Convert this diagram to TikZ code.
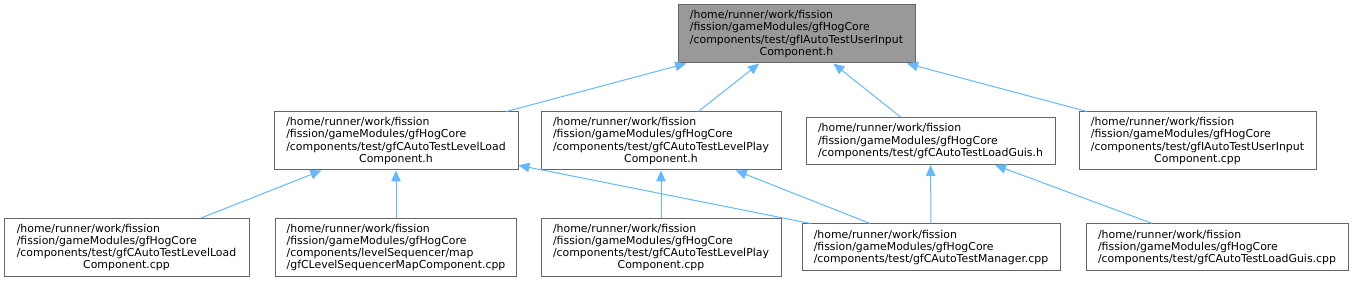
\documentclass[tikz,border=0pt]{standalone}
\usepackage{fontspec}
\setmainfont{DejaVu Sans}
\usepackage{xcolor}
\usepackage{tikz}
\usetikzlibrary{arrows.meta}

\definecolor{boxgray}{HTML}{666666}
\definecolor{topfill}{HTML}{999999}
\definecolor{edgeblue}{HTML}{63B8FF}
\newcommand{\ctrline}[1]{\null\hfill#1\hfill\null}

\begin{document}
\begin{tikzpicture}[x=1pt, y=-1pt,
    file/.style={draw=boxgray, line width=1pt, fill=white, align=left, inner sep=0pt,
        font=\fontsize{10.9}{12.2}\selectfont, minimum height=58pt},
    short/.style={minimum height=47pt},
    edge/.style={draw=edgeblue, line width=1pt, -{Triangle[length=11pt, width=9.5pt]}}]
    \useasboundingbox (0,0) rectangle (1353,283);

    % Header at the top
    \node[file, fill=topfill, minimum width=237pt] (top) at (796.5,34)
        {/home/runner/work/fission\\/fission/gameModules/gfHogCore\\/components/test/gfIAutoTestUserInput\\\ctrline{Component.h}};

    % Second row
    \node[file, minimum width=244pt] (llh) at (396,141)
        {/home/runner/work/fission\\/fission/gameModules/gfHogCore\\/components/test/gfCAutoTestLevelLoad\\\ctrline{Component.h}};
    \node[file, minimum width=240pt] (lph) at (661,141)
        {/home/runner/work/fission\\/fission/gameModules/gfHogCore\\/components/test/gfCAutoTestLevelPlay\\\ctrline{Component.h}};
    \node[file, short, minimum width=249pt] (lgh) at (930.5,141)
        {/home/runner/work/fission\\/fission/gameModules/gfHogCore\\/components/test/gfCAutoTestLoadGuis.h};
    \node[file, minimum width=237pt] (uic) at (1197.5,141)
        {/home/runner/work/fission\\/fission/gameModules/gfHogCore\\/components/test/gfIAutoTestUserInput\\\ctrline{Component.cpp}};

    % Third row
    \node[file, minimum width=245pt] (llc) at (126.5,247.5)
        {/home/runner/work/fission\\/fission/gameModules/gfHogCore\\/components/test/gfCAutoTestLevelLoad\\\ctrline{Component.cpp}};
    \node[file, minimum width=241pt] (lsm) at (396,247.5)
        {/home/runner/work/fission\\/fission/gameModules/gfHogCore\\/components/levelSequencer/map\\/gfCLevelSequencerMapComponent.cpp};
    \node[file, minimum width=240pt] (lpc) at (661,247.5)
        {/home/runner/work/fission\\/fission/gameModules/gfHogCore\\/components/test/gfCAutoTestLevelPlay\\\ctrline{Component.cpp}};
    \node[file, short, minimum width=258pt] (mgr) at (931,247.5)
        {/home/runner/work/fission\\/fission/gameModules/gfHogCore\\/components/test/gfCAutoTestManager.cpp};
    \node[file, short, minimum width=262pt] (lgc) at (1217,247.5)
        {/home/runner/work/fission\\/fission/gameModules/gfHogCore\\/components/test/gfCAutoTestLoadGuis.cpp};

    % Include edges
    \draw[edge] (llh) -- (top);
    \draw[edge] (lph) -- (top);
    \draw[edge] (lgh) -- (top);
    \draw[edge] (uic) -- (top);
    \draw[edge] (llc) -- (llh);
    \draw[edge] (lsm) -- (llh);
    \draw[edge] (mgr) -- (llh);
    \draw[edge] (lpc) -- (lph);
    \draw[edge] (mgr) -- (lph);
    \draw[edge] (mgr) -- (lgh);
    \draw[edge] (lgc) -- (lgh);
\end{tikzpicture}
\end{document}
